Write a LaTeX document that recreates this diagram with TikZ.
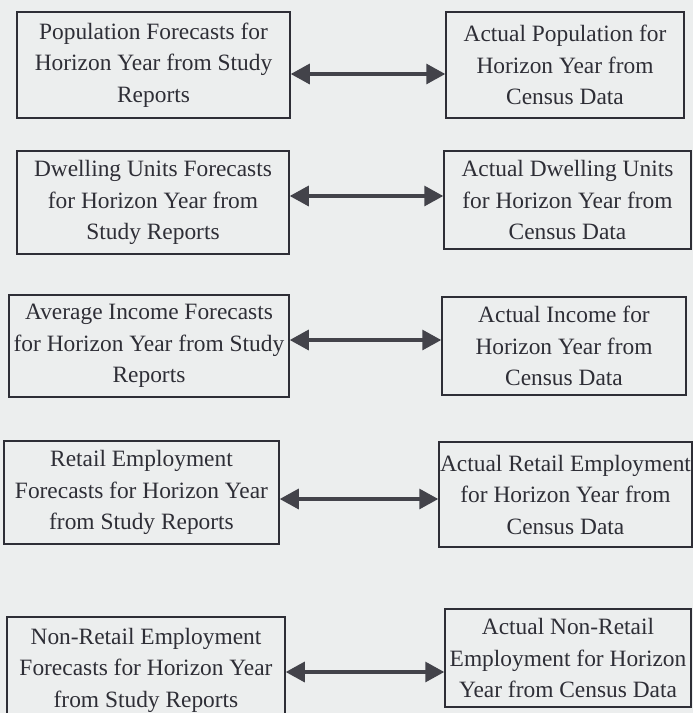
\documentclass[tikz,border=0pt]{standalone}
\usepackage{fontspec}
\setmainfont{Liberation Serif}
\usetikzlibrary{arrows.meta}
\definecolor{paper}{RGB}{236,238,238}
\definecolor{ink}{RGB}{46,46,54}
\begin{document}
\begin{tikzpicture}[x=1pt, y=-1pt, >={Triangle[length=19pt,width=20pt]}]
    \tikzstyle{box}=[draw=ink, line width=1.5pt, text=ink, inner sep=0pt, align=center, font=\fontsize{23.4}{31.5}\selectfont]
    \tikzstyle{link}=[<->, draw=ink!90, line width=3.2pt]
    \clip (0,0) rectangle (693,713);
    \fill[paper] (0,0) rectangle (693,713);
    % forecasts (left) and census values (right)
    \node[box, minimum width=273pt, minimum height=106pt] (pf) at (153.5,65) {Population Forecasts for\\Horizon Year from Study\\Reports};
    \node[box, minimum width=238pt, minimum height=106pt] (pa) at (565,65) {Actual Population for\\Horizon Year from\\Census Data};
    \node[box, minimum width=272pt, minimum height=103pt] (df) at (153,202.5) {Dwelling Units Forecasts\\for Horizon Year from\\Study Reports};
    \node[box, minimum width=247pt, minimum height=98pt] (da) at (567.5,200) {Actual Dwelling Units\\for Horizon Year from\\Census Data};
    \node[box, minimum width=280pt, minimum height=102pt] (inf) at (149,346) {Average Income Forecasts\\for Horizon Year from Study\\Reports};
    \node[box, minimum width=244pt, minimum height=98pt] (ina) at (564,346) {Actual Income for\\Horizon Year from\\Census Data};
    \node[box, minimum width=275pt, minimum height=103pt] (rf) at (141.5,492.5) {Retail Employment\\Forecasts for Horizon Year\\from Study Reports};
    \node[box, minimum width=253pt, minimum height=105pt] (ra) at (565.5,494.5) {Actual Retail Employment\\for Horizon Year from\\Census Data};
    \node[box, minimum width=278pt, minimum height=106pt] (nf) at (146,670) {Non-Retail Employment\\Forecasts for Horizon Year\\from Study Reports};
    \node[box, minimum width=246pt, minimum height=98pt] (na) at (568,658) {Actual Non-Retail\\Employment for Horizon\\Year from Census Data};
    % heights of the double arrows
    \coordinate (h1) at (0,74);
    \coordinate (h2) at (0,196);
    \coordinate (h3) at (0,340);
    \coordinate (h4) at (0,499);
    \coordinate (h5) at (0,672);
    \draw[link] (pf.east |- h1) -- (pa.west |- h1);
    \draw[link] (df.east |- h2) -- (da.west |- h2);
    \draw[link] (inf.east |- h3) -- (ina.west |- h3);
    \draw[link] (rf.east |- h4) -- (ra.west |- h4);
    \draw[link] (nf.east |- h5) -- (na.west |- h5);
\end{tikzpicture}
\end{document}
